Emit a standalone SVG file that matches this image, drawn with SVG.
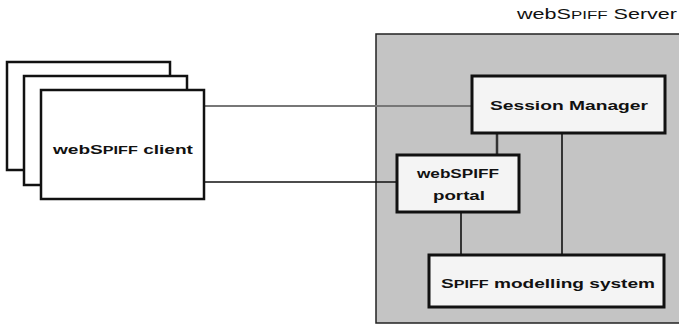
<svg xmlns="http://www.w3.org/2000/svg" width="679" height="324" viewBox="0 0 679 324">
<style>
.t{font-family:"Liberation Sans",Arial,sans-serif;font-weight:bold;font-size:13px;fill:#111}
.box{fill:#f4f4f4;stroke:#111;stroke-width:3}
.card{fill:#fff;stroke:#111;stroke-width:2.5}
.ln{stroke:#111;stroke-width:1.6;fill:none}
</style>
<rect width="679" height="324" fill="#fff"/>
<g id="server">
<rect x="376" y="34" width="310" height="289" fill="#c4c4c4" stroke="#222" stroke-width="1.5"/>
<text x="677" y="19" text-anchor="end" font-family="Liberation Sans,Arial,sans-serif" font-size="14" fill="#111" textLength="160" lengthAdjust="spacingAndGlyphs">webS<tspan font-size="11">PIFF</tspan> Server</text>
</g>
<g id="connectors">
<line x1="204" y1="106" x2="472" y2="106" stroke="#777" stroke-width="2.2"/>
<line class="ln" x1="204" y1="182" x2="397" y2="182"/>
<line x1="497" y1="133" x2="497" y2="155" stroke="#333" stroke-width="2.5"/>
<line class="ln" x1="562" y1="133" x2="562" y2="255"/>
<line class="ln" x1="461" y1="212" x2="461" y2="255"/>
</g>
<g id="client">
<rect class="card" x="7" y="62" width="163" height="108"/>
<rect class="card" x="24" y="76" width="163" height="109"/>
<rect class="card" x="41" y="90" width="163" height="109"/>
<text class="t" x="53" y="154" textLength="140" lengthAdjust="spacingAndGlyphs">webS<tspan font-size="11">PIFF</tspan> client</text>
</g>
<g id="session-manager">
<rect class="box" x="472" y="76" width="193" height="57"/>
<text class="t" x="490" y="110" textLength="158" lengthAdjust="spacingAndGlyphs">Session Manager</text>
</g>
<g id="portal">
<rect class="box" x="397" y="155" width="122" height="57"/>
<text class="t" x="417" y="178" textLength="82" lengthAdjust="spacingAndGlyphs">webSPIFF</text>
<text class="t" x="433" y="200" textLength="52" lengthAdjust="spacingAndGlyphs">portal</text>
</g>
<g id="modelling-system">
<rect class="box" x="429" y="255" width="235" height="52"/>
<text class="t" x="441" y="288" textLength="214" lengthAdjust="spacingAndGlyphs">S<tspan font-size="11">PIFF</tspan> modelling system</text>
</g>
</svg>
